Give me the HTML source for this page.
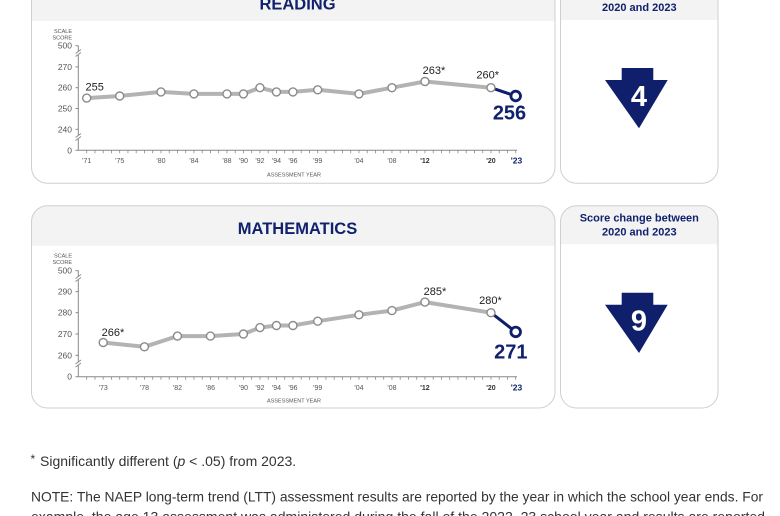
<!DOCTYPE html>
<html><head><meta charset="utf-8"><style>
html,body{margin:0;padding:0;background:#fff;}
svg{display:block;font-family:"Liberation Sans",Arial,sans-serif;}
</style></head><body>
<svg width="780" height="516" viewBox="0 0 780 516" xmlns="http://www.w3.org/2000/svg">
<defs>
<clipPath id="c1"><rect x="31.5" y="-19" width="523.5" height="202.3" rx="16"/></clipPath>
<clipPath id="c2"><rect x="31.5" y="205.7" width="523.5" height="202.3" rx="16"/></clipPath>
<clipPath id="c3"><rect x="560.5" y="-19" width="157.5" height="202.3" rx="16"/></clipPath>
<clipPath id="c4"><rect x="560.5" y="205.7" width="157.5" height="202.3" rx="16"/></clipPath>
</defs>

<g clip-path="url(#c1)"><rect x="31.5" y="-19" width="523.5" height="40" fill="#f3f3f3"/></g>
<rect x="31.5" y="-19" width="523.5" height="202.3" rx="16" fill="none" stroke="#cfcfcf" stroke-width="1"/>
<g clip-path="url(#c2)"><rect x="31.5" y="205.7" width="523.5" height="40" fill="#f3f3f3"/></g>
<rect x="31.5" y="205.7" width="523.5" height="202.3" rx="16" fill="none" stroke="#cfcfcf" stroke-width="1"/>
<g clip-path="url(#c3)"><rect x="560.5" y="-19" width="157.5" height="39" fill="#f3f3f3"/></g>
<rect x="560.5" y="-19" width="157.5" height="202.3" rx="16" fill="none" stroke="#cfcfcf" stroke-width="1"/>
<g clip-path="url(#c4)"><rect x="560.5" y="205.7" width="157.5" height="38.5" fill="#f3f3f3"/></g>
<rect x="560.5" y="205.7" width="157.5" height="202.3" rx="16" fill="none" stroke="#cfcfcf" stroke-width="1"/>

<text x="297.5" y="9.3" text-anchor="middle" font-size="16.5" font-weight="bold" fill="#10216e">READING</text>
<text x="297.5" y="234" text-anchor="middle" font-size="16.5" font-weight="bold" fill="#10216e">MATHEMATICS</text>

<g font-size="11" font-weight="bold" fill="#10216e" text-anchor="middle">
<text x="639.3" y="-3">Score change between</text>
<text x="639.3" y="11">2020 and 2023</text>
<text x="639.3" y="221.7">Score change between</text>
<text x="639.3" y="235.7">2020 and 2023</text>
</g>

<polygon points="621.7,68 653.3,68 653.3,80 667.7,80 639,128.3 605,80 621.7,80" fill="#0f1f6b"/>
<text x="639" y="106" text-anchor="middle" font-size="29" font-weight="bold" fill="#fff">4</text>
<polygon points="621.7,292.7 653.3,292.7 653.3,304.7 667.7,304.7 639,353 605,304.7 621.7,304.7" fill="#0f1f6b"/>
<text x="639" y="330.5" text-anchor="middle" font-size="29" font-weight="bold" fill="#fff">9</text>

<g>
<text x="72" y="33" text-anchor="end" font-size="5.5" fill="#555">SCALE</text>
<text x="72" y="39.5" text-anchor="end" font-size="5.5" fill="#555">SCORE</text>
<g font-size="8.5" fill="#555" text-anchor="end">
<text x="72" y="48.7">500</text>
<text x="72" y="69.9">270</text>
<text x="72" y="90.7">260</text>
<text x="72" y="111.3">250</text>
<text x="72" y="132.3">240</text>
<text x="72" y="153.3">0</text>
</g>
<line x1="78.3" y1="45.7" x2="78.3" y2="150.3" stroke="#888" stroke-width="1"/>
<g stroke="#888" stroke-width="1">
<line x1="75.5" y1="45.7" x2="78.3" y2="45.7"/>
<line x1="75.5" y1="66.9" x2="78.3" y2="66.9"/>
<line x1="75.5" y1="87.7" x2="78.3" y2="87.7"/>
<line x1="75.5" y1="108.5" x2="78.3" y2="108.5"/>
<line x1="75.5" y1="129.3" x2="78.3" y2="129.3"/>
<line x1="75.5" y1="150.3" x2="78.3" y2="150.3"/>
</g>
<rect x="75" y="51.5" width="7" height="3.5" fill="#fff"/>
<line x1="75.5" y1="53.5" x2="81" y2="49.5" stroke="#888" stroke-width="0.9"/>
<line x1="75.5" y1="56.5" x2="81" y2="52.5" stroke="#888" stroke-width="0.9"/>
<rect x="75" y="135.5" width="7" height="3.5" fill="#fff"/>
<line x1="75.5" y1="137.5" x2="81" y2="133.5" stroke="#888" stroke-width="0.9"/>
<line x1="75.5" y1="140.5" x2="81" y2="136.5" stroke="#888" stroke-width="0.9"/>

<line x1="78.3" y1="150.3" x2="517" y2="150.3" stroke="#888" stroke-width="1"/>
<path stroke="#888" stroke-width="0.8" fill="none" d="M86.7 150.3v3M94.95 150.3v3M103.2 150.3v3M111.45 150.3v3M119.7 150.3v3M127.95 150.3v3M136.2 150.3v3M144.45 150.3v3M152.7 150.3v3M160.95 150.3v3M169.2 150.3v3M177.45 150.3v3M185.7 150.3v3M193.95 150.3v3M202.2 150.3v3M210.45 150.3v3M218.7 150.3v3M226.95 150.3v3M235.2 150.3v3M243.45 150.3v3M251.7 150.3v3M259.95 150.3v3M268.2 150.3v3M276.45 150.3v3M284.7 150.3v3M292.95 150.3v3M301.2 150.3v3M309.45 150.3v3M317.7 150.3v3M325.95 150.3v3M334.2 150.3v3M342.45 150.3v3M350.7 150.3v3M358.95 150.3v3M367.2 150.3v3M375.45 150.3v3M383.7 150.3v3M391.95 150.3v3M400.2 150.3v3M408.45 150.3v3M416.7 150.3v3M424.95 150.3v3M433.2 150.3v3M441.45 150.3v3M449.7 150.3v3M457.95 150.3v3M466.2 150.3v3M474.45 150.3v3M482.7 150.3v3M490.95 150.3v3M499.2 150.3v3M507.45 150.3v3M515.7 150.3v3"/>
<g font-size="7" fill="#555" text-anchor="middle">
<text x="86.7" y="163">'71</text>
<text x="119.7" y="163">'75</text>
<text x="160.95" y="163">'80</text>
<text x="193.95" y="163">'84</text>
<text x="226.95" y="163">'88</text>
<text x="243.45" y="163">'90</text>
<text x="259.95" y="163">'92</text>
<text x="276.45" y="163">'94</text>
<text x="292.95" y="163">'96</text>
<text x="317.7" y="163">'99</text>
<text x="358.95" y="163">'04</text>
<text x="391.95" y="163">'08</text>
<text x="424.95" y="163" font-weight="bold" fill="#333">'12</text>
<text x="490.95" y="163" font-weight="bold" fill="#333">'20</text>
<text x="516.5" y="163.5" font-weight="bold" font-size="8.5" fill="#10216e">'23</text>
</g>
<text x="294" y="176.5" text-anchor="middle" font-size="5.5" fill="#555">ASSESSMENT YEAR</text>

<polyline fill="none" stroke="#b3b3b3" stroke-width="4" stroke-linejoin="round" points="86.7,98.1 119.7,96 160.95,91.9 193.95,93.9 226.95,93.9 243.45,93.9 259.95,87.7 276.45,91.9 292.95,91.9 317.7,89.8 358.95,93.9 391.95,87.7 424.95,81.5 490.95,87.7"/>
<line x1="490.95" y1="87.7" x2="515.7" y2="96" stroke="#0f1f6b" stroke-width="3"/>
<g fill="#fff" stroke="#8a8a8a" stroke-width="1.4">
<circle cx="86.7" cy="98.1" r="4"/>
<circle cx="119.7" cy="96" r="4"/>
<circle cx="160.95" cy="91.9" r="4"/>
<circle cx="193.95" cy="93.9" r="4"/>
<circle cx="226.95" cy="93.9" r="4"/>
<circle cx="243.45" cy="93.9" r="4"/>
<circle cx="259.95" cy="87.7" r="4"/>
<circle cx="276.45" cy="91.9" r="4"/>
<circle cx="292.95" cy="91.9" r="4"/>
<circle cx="317.7" cy="89.8" r="4"/>
<circle cx="358.95" cy="93.9" r="4"/>
<circle cx="391.95" cy="87.7" r="4"/>
<circle cx="424.95" cy="81.5" r="4"/>
<circle cx="490.95" cy="87.7" r="4"/>
</g>
<circle cx="515.7" cy="96" r="4.8" fill="#fff" stroke="#0f1f6b" stroke-width="2.8"/>
<g font-size="11" fill="#222" text-anchor="middle">
<text x="94.7" y="90.7">255</text>
<text x="434" y="74">263*</text>
<text x="487.7" y="78.3">260*</text>
</g>
<text x="509.5" y="119.3" text-anchor="middle" font-size="20" font-weight="bold" fill="#10216e">256</text>
</g>

<g>
<text x="72" y="257.7" text-anchor="end" font-size="5.5" fill="#555">SCALE</text>
<text x="72" y="264.2" text-anchor="end" font-size="5.5" fill="#555">SCORE</text>
<g font-size="8.5" fill="#555" text-anchor="end">
<text x="72" y="273.7">500</text>
<text x="72" y="294.6">290</text>
<text x="72" y="315.7">280</text>
<text x="72" y="337">270</text>
<text x="72" y="358.3">260</text>
<text x="72" y="379.7">0</text>
</g>
<line x1="78.3" y1="270.7" x2="78.3" y2="376.7" stroke="#888" stroke-width="1"/>
<g stroke="#888" stroke-width="1">
<line x1="75.5" y1="270.7" x2="78.3" y2="270.7"/>
<line x1="75.5" y1="291.6" x2="78.3" y2="291.6"/>
<line x1="75.5" y1="312.7" x2="78.3" y2="312.7"/>
<line x1="75.5" y1="334" x2="78.3" y2="334"/>
<line x1="75.5" y1="355.3" x2="78.3" y2="355.3"/>
<line x1="75.5" y1="376.7" x2="78.3" y2="376.7"/>
</g>
<rect x="75" y="276.5" width="7" height="3.5" fill="#fff"/>
<line x1="75.5" y1="278.5" x2="81" y2="274.5" stroke="#888" stroke-width="0.9"/>
<line x1="75.5" y1="281.5" x2="81" y2="277.5" stroke="#888" stroke-width="0.9"/>
<rect x="75" y="362" width="7" height="3.5" fill="#fff"/>
<line x1="75.5" y1="364" x2="81" y2="360" stroke="#888" stroke-width="0.9"/>
<line x1="75.5" y1="367" x2="81" y2="363" stroke="#888" stroke-width="0.9"/>

<line x1="78.3" y1="376.7" x2="517" y2="376.7" stroke="#888" stroke-width="1"/>
<g transform="translate(0,226.4)">
<path stroke="#888" stroke-width="0.8" fill="none" d="M86.7 150.3v3M94.95 150.3v3M103.2 150.3v3M111.45 150.3v3M119.7 150.3v3M127.95 150.3v3M136.2 150.3v3M144.45 150.3v3M152.7 150.3v3M160.95 150.3v3M169.2 150.3v3M177.45 150.3v3M185.7 150.3v3M193.95 150.3v3M202.2 150.3v3M210.45 150.3v3M218.7 150.3v3M226.95 150.3v3M235.2 150.3v3M243.45 150.3v3M251.7 150.3v3M259.95 150.3v3M268.2 150.3v3M276.45 150.3v3M284.7 150.3v3M292.95 150.3v3M301.2 150.3v3M309.45 150.3v3M317.7 150.3v3M325.95 150.3v3M334.2 150.3v3M342.45 150.3v3M350.7 150.3v3M358.95 150.3v3M367.2 150.3v3M375.45 150.3v3M383.7 150.3v3M391.95 150.3v3M400.2 150.3v3M408.45 150.3v3M416.7 150.3v3M424.95 150.3v3M433.2 150.3v3M441.45 150.3v3M449.7 150.3v3M457.95 150.3v3M466.2 150.3v3M474.45 150.3v3M482.7 150.3v3M490.95 150.3v3M499.2 150.3v3M507.45 150.3v3M515.7 150.3v3"/>
</g>
<g font-size="7" fill="#555" text-anchor="middle">
<text x="103.2" y="390">'73</text>
<text x="144.45" y="390">'78</text>
<text x="177.45" y="390">'82</text>
<text x="210.45" y="390">'86</text>
<text x="243.45" y="390">'90</text>
<text x="259.95" y="390">'92</text>
<text x="276.45" y="390">'94</text>
<text x="292.95" y="390">'96</text>
<text x="317.7" y="390">'99</text>
<text x="358.95" y="390">'04</text>
<text x="391.95" y="390">'08</text>
<text x="424.95" y="390" font-weight="bold" fill="#333">'12</text>
<text x="490.95" y="390" font-weight="bold" fill="#333">'20</text>
<text x="516.5" y="390.5" font-weight="bold" font-size="8.5" fill="#10216e">'23</text>
</g>
<text x="294" y="402.3" text-anchor="middle" font-size="5.5" fill="#555">ASSESSMENT YEAR</text>

<polyline fill="none" stroke="#b3b3b3" stroke-width="4" stroke-linejoin="round" points="103.2,342.5 144.45,346.8 177.45,336.1 210.45,336.1 243.45,334 259.95,327.6 276.45,325.5 292.95,325.5 317.7,321.2 358.95,314.8 391.95,310.6 424.95,302.1 490.95,312.7"/>
<line x1="490.95" y1="312.7" x2="515.7" y2="331.9" stroke="#0f1f6b" stroke-width="3"/>
<g fill="#fff" stroke="#8a8a8a" stroke-width="1.4">
<circle cx="103.2" cy="342.5" r="4"/>
<circle cx="144.45" cy="346.8" r="4"/>
<circle cx="177.45" cy="336.1" r="4"/>
<circle cx="210.45" cy="336.1" r="4"/>
<circle cx="243.45" cy="334" r="4"/>
<circle cx="259.95" cy="327.6" r="4"/>
<circle cx="276.45" cy="325.5" r="4"/>
<circle cx="292.95" cy="325.5" r="4"/>
<circle cx="317.7" cy="321.2" r="4"/>
<circle cx="358.95" cy="314.8" r="4"/>
<circle cx="391.95" cy="310.6" r="4"/>
<circle cx="424.95" cy="302.1" r="4"/>
<circle cx="490.95" cy="312.7" r="4"/>
</g>
<circle cx="515.7" cy="331.9" r="4.8" fill="#fff" stroke="#0f1f6b" stroke-width="2.8"/>
<g font-size="11" fill="#222" text-anchor="middle">
<text x="113" y="336">266*</text>
<text x="435" y="295">285*</text>
<text x="490.5" y="304">280*</text>
</g>
<text x="510.8" y="358.3" text-anchor="middle" font-size="20" font-weight="bold" fill="#10216e">271</text>
</g>

<text x="30.5" y="463" font-size="12" fill="#333">*</text>
<text x="40" y="466" font-size="14" fill="#333">Significantly different (<tspan font-style="italic">p</tspan> &lt; .05) from 2023.</text>
<text x="31" y="501.7" font-size="14" fill="#333" textLength="732" lengthAdjust="spacingAndGlyphs">NOTE: The NAEP long-term trend (LTT) assessment results are reported by the year in which the school year ends. For</text>
<text x="31" y="521.5" font-size="14" fill="#333" textLength="734" lengthAdjust="spacingAndGlyphs">example, the age 13 assessment was administered during the fall of the 2022–23 school year and results are reported</text>
</svg>
</body></html>
